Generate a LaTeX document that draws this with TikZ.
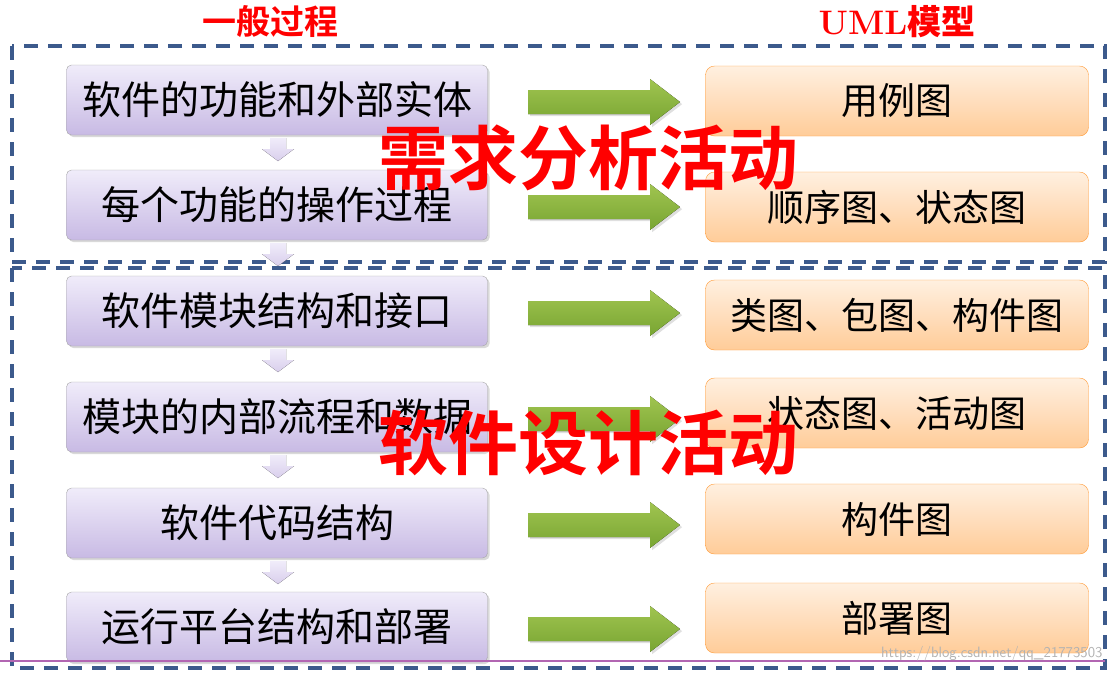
\documentclass[tikz,border=0pt]{standalone}
\usepackage{fontspec}
\newfontfamily\cjk{Noto Sans CJK SC}
\newfontfamily\cjkb{Noto Sans CJK SC Bold}
\usetikzlibrary{shadows}
\definecolor{dash}{RGB}{60,90,140}
\definecolor{ltop}{RGB}{240,236,250}
\definecolor{lbot}{RGB}{200,186,228}
\definecolor{gtop}{RGB}{160,196,80}
\definecolor{gbot}{RGB}{120,165,50}
\begin{document}
\begin{tikzpicture}[x=1pt,y=-1pt,
 lbox/.style={draw=gray!70,rounded corners=5pt,top color=ltop,bottom color=lbot,minimum width=421pt,minimum height=70pt,font=\cjk\fontsize{39}{39}\selectfont,drop shadow={opacity=0.3}},
 rbox/.style={draw=orange!80,rounded corners=9pt,top color=orange!12,bottom color=orange!40,minimum width=383pt,minimum height=70pt,font=\cjk\fontsize{37}{37}\selectfont},
 big/.style={text=red,font=\cjkb\fontsize{70}{70}\selectfont},
 dbox/.style={draw=dash,line width=4pt,dash pattern=on 14pt off 10pt}]
\useasboundingbox (0,0) rectangle (1114,673);
\node[text=red,font=\cjkb\fontsize{34}{34}\selectfont] (t1) at (270,22) {一般过程};
\node[text=red,font=\bfseries\fontsize{34}{34}\selectfont] (t2) at (897,22) {UML\cjkb 模型};
\draw[dbox] (12,46) rectangle (1105,262);
\draw[dbox] (12,268) rectangle (1105,668);
\foreach \i/\y/\ry/\a/\b in {1/100/101/软件的功能和外部实体/用例图,2/205/207/每个功能的操作过程/顺序图、状态图,3/311/315/软件模块结构和接口/类图、包图、构件图,4/417/413/模块的内部流程和数据/状态图、活动图,5/523/519/软件代码结构/构件图,6/627/618/运行平台结构和部署/部署图}{
 \ifnum\i<6
 \fill[top color=ltop,bottom color=lbot!70] (270,\y+38) -- (286,\y+38) -- (286,\y+49) -- (294,\y+49) -- (278,\y+61) -- (262,\y+49) -- (270,\y+49) -- cycle;
 \fi
 \node[lbox] (l\i) at (277,\y) {\a};
 \fill[top color=gtop,bottom color=gbot,drop shadow={opacity=0.25}] (528,\y-10) -- (650,\y-10) -- (650,\y-21) -- (680,\y+2) -- (650,\y+25) -- (650,\y+14) -- (528,\y+14) -- cycle;
 \node[rbox] (r\i) at (897,\ry) {\b};
}
\draw[violet!60,line width=1.5pt] (0,661) -- (1105,661);
\node[text=gray!60,font=\sffamily\fontsize{15}{15}\selectfont,anchor=east] (wm) at (1106,654) {https://blog.csdn.net/qq\_21773503};
\node[big] (s1) at (588,158) {需求分析活动};
\node[big] (s2) at (588,443) {软件设计活动};
\end{tikzpicture}
\end{document}
